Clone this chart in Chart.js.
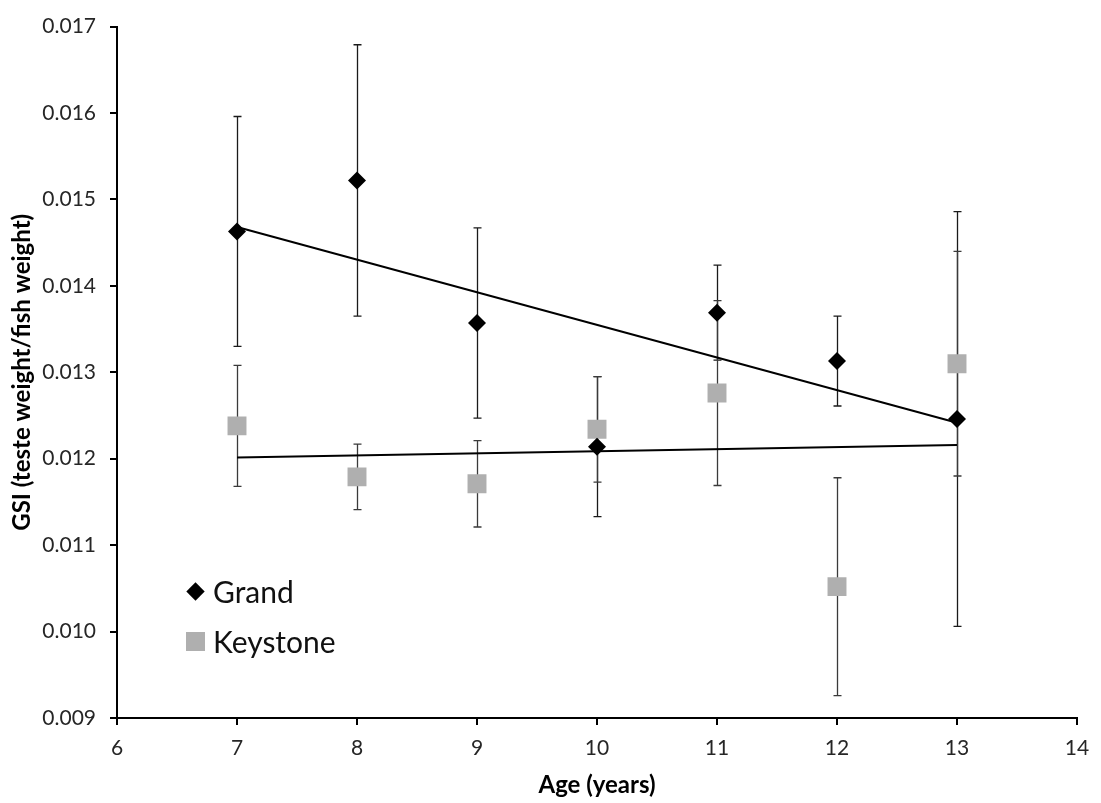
<!DOCTYPE html>
<html>
<head>
<meta charset="utf-8">
<script src="https://cdn.jsdelivr.net/npm/chart.js@4.4.0/dist/chart.umd.min.js"></script>
<style>
  body { margin: 0; background: #fff; }
  #wrap { position: relative; width: 1101px; height: 803px; }
  .leg { position: absolute; font-family: Lato, sans-serif; font-size: 30px; color: #111; line-height: 1; }
  .diamond { position: absolute; width: 13px; height: 13px; background: #000; transform: rotate(45deg); }
  .square { position: absolute; width: 19px; height: 19px; background: #afafaf; }
</style>
</head>
<body>
<div id="wrap">
  <canvas id="gsiChart" width="1101" height="803"></canvas>
  <div class="diamond" style="left:189px; top:585px;"></div>
  <div class="leg" style="left:213px; top:576px;">Grand</div>
  <div class="square" style="left:186px; top:632px;"></div>
  <div class="leg" style="left:213px; top:626px;">Keystone</div>
</div>
<script>
var ages = [7, 8, 9, 10, 11, 12, 13];
var grandMean = [0.01463, 0.01522, 0.01357, 0.01214, 0.01369, 0.01313, 0.01246];
var grandErr = [0.00133, 0.00157, 0.00110, 0.00081, 0.00055, 0.00052, 0.00240];
var keystoneMean = [0.01238, 0.01179, 0.01171, 0.01234, 0.01276, 0.01052, 0.01310];
var keystoneErr = [0.00070, 0.00038, 0.00050, 0.00061, 0.00107, 0.00126, 0.00130];
var xTicks = [6, 7, 8, 9, 10, 11, 12, 13, 14];

function toPoints(xs, ys) {
  var pts = [];
  for (var i = 0; i < xs.length; i++) pts.push({ x: xs[i], y: ys[i] });
  return pts;
}

// least squares fit, drawn from first to last age
function trend(xs, ys) {
  var n = xs.length, sx = 0, sy = 0, sxy = 0, sxx = 0;
  for (var i = 0; i < n; i++) {
    sx += xs[i]; sy += ys[i]; sxy += xs[i] * ys[i]; sxx += xs[i] * xs[i];
  }
  var b = (n * sxy - sx * sy) / (n * sxx - sx * sx);
  var a = (sy - b * sx) / n;
  var x0 = xs[0], x1 = xs[n - 1];
  return [{ x: x0, y: a + b * x0 }, { x: x1, y: a + b * x1 }];
}

var errorBars = {
  id: 'errorBars',
  beforeDatasetsDraw: function(chart) {
    var ctx = chart.ctx, xs = chart.scales.x, ys = chart.scales.y;
    var sets = [[grandMean, grandErr, '#1a1a1a'], [keystoneMean, keystoneErr, '#3a3a3a']];
    ctx.save();
    ctx.lineWidth = 1.3;
    sets.forEach(function(s) {
      ctx.strokeStyle = s[2];
      for (var i = 0; i < ages.length; i++) {
        var px = Math.round(xs.getPixelForValue(ages[i])) + 0.5;
        var top = ys.getPixelForValue(s[0][i] + s[1][i]);
        var bot = ys.getPixelForValue(s[0][i] - s[1][i]);
        ctx.beginPath();
        ctx.moveTo(px, top); ctx.lineTo(px, bot);
        ctx.moveTo(px - 4, top); ctx.lineTo(px + 4, top);
        ctx.moveTo(px - 4, bot); ctx.lineTo(px + 4, bot);
        ctx.stroke();
      }
    });
    ctx.restore();
  }
};

var tickFont = { family: 'Lato, sans-serif', size: 21 };
var titleFont = { family: 'Lato, sans-serif', size: 24, weight: 'bold' };

new Chart(document.getElementById('gsiChart').getContext('2d'), {
  type: 'scatter',
  data: {
    datasets: [
      {
        label: 'Grand',
        data: toPoints(ages, grandMean),
        pointStyle: 'rectRot',
        pointRadius: 9,
        backgroundColor: '#000',
        borderWidth: 0
      },
      {
        label: 'Keystone',
        data: toPoints(ages, keystoneMean),
        pointStyle: 'rect',
        pointRadius: 13.4,
        backgroundColor: '#afafaf',
        borderWidth: 0
      },
      {
        label: 'Grand trend',
        type: 'line',
        data: trend(ages, grandMean),
        borderColor: '#000',
        borderWidth: 2,
        pointRadius: 0,
        fill: false
      },
      {
        label: 'Keystone trend',
        type: 'line',
        data: trend(ages, keystoneMean),
        borderColor: '#000',
        borderWidth: 2,
        pointRadius: 0,
        fill: false
      }
    ]
  },
  options: {
    responsive: false,
    animation: false,
    devicePixelRatio: 1,
    layout: { padding: { left: 0, top: 18, right: 24, bottom: 0 } },
    scales: {
      x: {
        type: 'linear',
        min: 6,
        max: 14,
        afterFit: function(scale) { scale.height = 85; },
        afterBuildTicks: function(scale) {
          scale.ticks = xTicks.map(function(v) { return { value: v }; });
        },
        ticks: { font: tickFont, color: '#262626', padding: 11 },
        grid: { drawOnChartArea: false, drawTicks: true, tickLength: 7, color: '#000', lineWidth: 2 },
        border: { display: true, color: '#000', width: 2 },
        title: { display: true, text: 'Age (years)', font: titleFont, color: '#000', padding: { top: 0, bottom: 3 } }
      },
      y: {
        min: 0.009,
        max: 0.017,
        afterFit: function(scale) { scale.width = 117; },
        ticks: {
          stepSize: 0.001,
          font: tickFont,
          color: '#262626',
          padding: 14,
          callback: function(v) { return v.toFixed(3); }
        },
        grid: { drawOnChartArea: false, drawTicks: true, tickLength: 7, color: '#000', lineWidth: 2 },
        border: { display: true, color: '#000', width: 2 },
        title: { display: true, text: 'GSI (teste weight/fish weight)', font: titleFont, color: '#000', padding: { top: 8, bottom: 0 } }
      }
    },
    plugins: {
      legend: { display: false },
      tooltip: { enabled: false }
    }
  },
  plugins: [errorBars]
});
</script>
</body>
</html>
